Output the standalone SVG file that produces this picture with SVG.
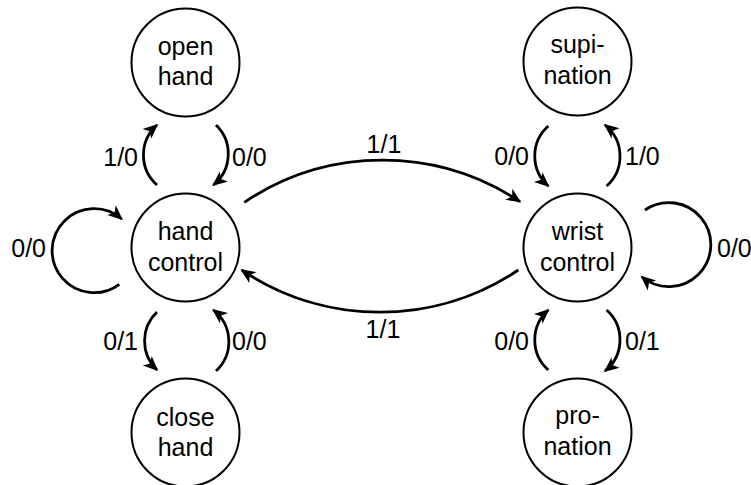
<svg xmlns="http://www.w3.org/2000/svg" width="751" height="485" viewBox="0 0 751 485">
  <style>
    .node circle { fill: #ffffff; stroke: #000000; stroke-width: 2; }
    .node text { font-family: "Liberation Sans", Arial, sans-serif; font-size: 25px; fill: #000000; text-anchor: middle; }
    .edge { fill: none; stroke: #000000; stroke-width: 2.8; marker-end: url(#head); }
    .lbl { font-family: "Liberation Sans", Arial, sans-serif; font-size: 25px; fill: #000000; }
    .l { text-anchor: end; }
    .r { text-anchor: start; }
    .m { text-anchor: middle; }
  </style>
  <defs>
    <marker id="head" viewBox="-16 -8 18 16" refX="-1.5" refY="0" markerWidth="18" markerHeight="16" markerUnits="userSpaceOnUse" orient="auto">
      <path d="M0,0 L-15,-6.5 L-11,0 L-15,6.5 Z" fill="#000000"/>
    </marker>
  </defs>

  <rect width="751" height="485" fill="#ffffff"/>

  <!-- transitions -->
  <g id="edges">
    <!-- hand side -->
    <path class="edge" d="M157,185 A40,40 0 0 1 157,125"/>
    <path class="edge" d="M216,125 A40,40 0 0 1 213.3,185"/>
    <path class="edge" d="M157,312 A40,40 0 0 0 157,370"/>
    <path class="edge" d="M216,371 A40,40 0 0 0 213.3,310"/>
    <path class="edge" d="M119.3,284.3 A42,42 0 1 1 121.7,219"/>
    <!-- between the two controls -->
    <path class="edge" d="M244.3,202.3 A248,248 0 0 1 520,201.7"/>
    <path class="edge" d="M518.3,270 A248,248 0 0 1 241.7,270"/>
    <!-- wrist side -->
    <path class="edge" d="M548.3,126 A40,40 0 0 0 548.3,186"/>
    <path class="edge" d="M606.7,186 A40,40 0 0 0 605,125"/>
    <path class="edge" d="M606.7,310 A40,40 0 0 1 605,371"/>
    <path class="edge" d="M548.3,370 A40,40 0 0 1 548.3,310"/>
    <path class="edge" d="M645,210 A42,42 0 1 1 641.7,276.7"/>

    <!-- input/output labels -->
    <text class="lbl l" x="138" y="166">1/0</text>
    <text class="lbl r" x="232" y="166">0/0</text>
    <text class="lbl l" x="46" y="257">0/0</text>
    <text class="lbl l" x="138" y="350">0/1</text>
    <text class="lbl r" x="232" y="350">0/0</text>
    <text class="lbl m" x="384" y="153">1/1</text>
    <text class="lbl m" x="383" y="338">1/1</text>
    <text class="lbl l" x="529" y="165">0/0</text>
    <text class="lbl r" x="625" y="165">1/0</text>
    <text class="lbl r" x="717" y="257">0/0</text>
    <text class="lbl l" x="529" y="350">0/0</text>
    <text class="lbl r" x="625" y="350">0/1</text>
  </g>

  <g id="open-hand" class="node">
    <circle cx="185.5" cy="62.5" r="54"/>
    <text x="185.5" y="55">open</text>
    <text x="185.5" y="85">hand</text>
  </g>
  <g id="hand-control" class="node">
    <circle cx="185.5" cy="247.5" r="54"/>
    <text x="185.5" y="240">hand</text>
    <text x="185.5" y="271">control</text>
  </g>
  <g id="close-hand" class="node">
    <circle cx="185.5" cy="432.5" r="54"/>
    <text x="185.5" y="426">close</text>
    <text x="185.5" y="456">hand</text>
  </g>
  <g id="supination" class="node">
    <circle cx="577.5" cy="61.5" r="54"/>
    <text x="577.5" y="53">supi-</text>
    <text x="577.5" y="84">nation</text>
  </g>
  <g id="wrist-control" class="node">
    <circle cx="577.5" cy="247.5" r="54"/>
    <text x="577.5" y="240">wrist</text>
    <text x="577.5" y="271">control</text>
  </g>
  <g id="pronation" class="node">
    <circle cx="577.5" cy="432.5" r="54"/>
    <text x="577.5" y="424">pro-</text>
    <text x="577.5" y="455">nation</text>
  </g>
</svg>
